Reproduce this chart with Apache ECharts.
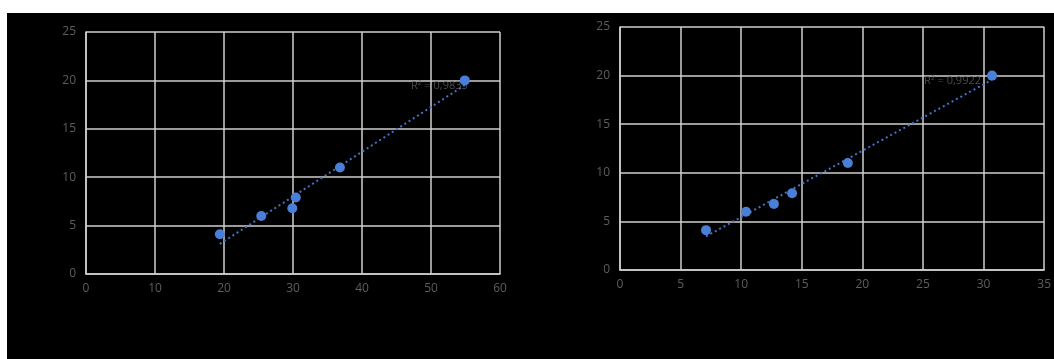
<!DOCTYPE html>
<html>
<head>
<meta charset="utf-8">
<script src="https://cdn.jsdelivr.net/npm/echarts@6/dist/echarts.min.js"></script>
<style>
  html, body { margin: 0; padding: 0; background: #fff; }
  #chart { position: absolute; left: 7px; top: 13px; width: 1047px; height: 346px; background: #000; }
</style>
</head>
<body>
<div id="chart"></div>
<script>
// y values shared by both plots
const yValues = [4.1, 6, 6.8, 7.9, 11, 20];
const xLeft = [19.4, 25.4, 29.9, 30.4, 36.8, 54.9];
const xRight = [7.1, 10.4, 12.7, 14.2, 18.8, 30.7];
const r2Labels = ['R² = 0,9833', 'R² = 0,9922'];

const chart = echarts.init(document.getElementById('chart'));

// least squares line through the points, drawn between min and max x
function trend(xs, ys) {
  const n = xs.length;
  const mx = xs.reduce((a, b) => a + b, 0) / n;
  const my = ys.reduce((a, b) => a + b, 0) / n;
  let sxy = 0, sxx = 0;
  xs.forEach((x, i) => { sxy += (x - mx) * (ys[i] - my); sxx += (x - mx) * (x - mx); });
  const k = sxy / sxx, b = my - k * mx;
  const x0 = Math.min(...xs), x1 = Math.max(...xs);
  return [[x0, k * x0 + b], [x1, k * x1 + b]];
}

const gridLine = { show: true, lineStyle: { color: '#cfcfcf', width: 1.5 } };
const labelStyle = { color: '#5e5e5e', fontSize: 12, fontFamily: 'Open Sans' };

function xAxis(gi, max, interval) {
  return {
    type: 'value', gridIndex: gi, min: 0, max: max, interval: interval,
    axisLine: { show: true, lineStyle: { color: '#cfcfcf', width: 1.5 } },
    axisTick: { show: false },
    splitLine: gridLine,
    axisLabel: Object.assign({ margin: 9, showMaxLabel: true }, labelStyle)
  };
}
function yAxis(gi) {
  return {
    type: 'value', gridIndex: gi, min: 0, max: 25, interval: 5,
    axisLine: { show: true, lineStyle: { color: '#cfcfcf', width: 1.5 } },
    axisTick: { show: false },
    splitLine: gridLine,
    axisLabel: Object.assign({ margin: 10 }, labelStyle)
  };
}

function pointSeries(gi, xs) {
  return {
    type: 'scatter', xAxisIndex: gi, yAxisIndex: gi,
    data: xs.map((x, i) => [x, yValues[i]]),
    symbolSize: 10,
    itemStyle: { color: '#4a7fd8', opacity: 1 },
    z: 4
  };
}
function trendSeries(gi, xs) {
  return {
    type: 'line', xAxisIndex: gi, yAxisIndex: gi,
    data: trend(xs, yValues),
    showSymbol: false, symbol: 'none',
    lineStyle: { color: '#4472c4', width: 2, type: [2, 3] },
    silent: true,
    z: 2
  };
}
// the R² text, placed at the end of the trend line
function r2Series(gi, xs, text, dx) {
  const end = trend(xs, yValues)[1];
  return {
    type: 'scatter', xAxisIndex: gi, yAxisIndex: gi,
    data: [end],
    symbolSize: 2,
    itemStyle: { color: 'rgba(0,0,0,0)' },
    label: { show: true, formatter: text, position: 'left', distance: 0, offset: [dx, 1], color: '#5e5e5e', fontSize: 11, fontFamily: 'Open Sans' },
    silent: true,
    z: 3
  };
}

chart.setOption({
  animation: false,
  grid: [
    { left: 79, top: 19, width: 414, height: 242 },
    { left: 613, top: 14, width: 426, height: 243 }
  ],
  xAxis: [xAxis(0, 60, 10), xAxis(1, 35, 5)],
  yAxis: [yAxis(0), yAxis(1)],
  series: [
    trendSeries(0, xLeft),
    r2Series(0, xLeft, r2Labels[0], 4),
    pointSeries(0, xLeft),
    trendSeries(1, xRight),
    r2Series(1, xRight, r2Labels[1], -10),
    pointSeries(1, xRight)
  ]
});
</script>
</body>
</html>
